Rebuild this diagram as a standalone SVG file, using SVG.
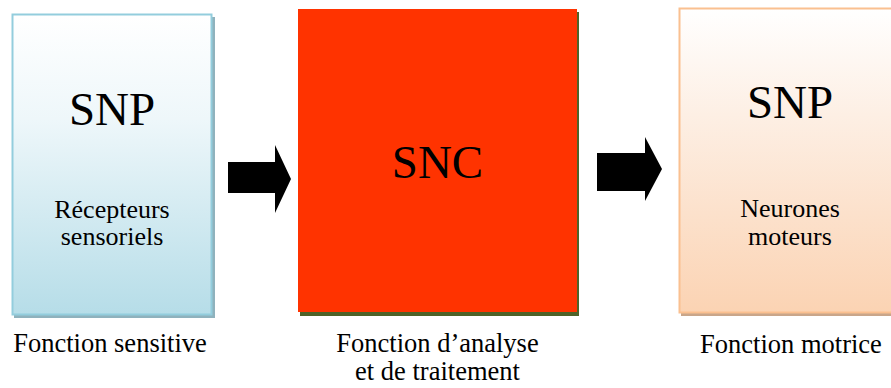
<svg xmlns="http://www.w3.org/2000/svg" width="891" height="388" viewBox="0 0 891 388">
<defs>
<linearGradient id="gBlue" x1="0" y1="0" x2="0" y2="1">
<stop offset="0" stop-color="#ffffff"/>
<stop offset="0.35" stop-color="#eef7fa"/>
<stop offset="1" stop-color="#b6dde8"/>
</linearGradient>
<linearGradient id="gOrange" x1="0" y1="0" x2="0" y2="1">
<stop offset="0" stop-color="#ffffff"/>
<stop offset="0.35" stop-color="#fdefe4"/>
<stop offset="1" stop-color="#fbd3b3"/>
</linearGradient>
</defs>
<style>
text{fill:#000;text-anchor:middle}
.big{font-size:47px}
.sm{font-size:26px}
.lab{font-size:26.5px}
</style>
<rect width="891" height="388" fill="#ffffff"/>
<g id="snp-sensitif">
<rect x="14" y="17" width="201" height="301" fill="#8fb2bd"/>
<rect x="12.5" y="14.5" width="199" height="300" fill="url(#gBlue)" stroke="#93cddd" stroke-width="2"/>
<text class="big" x="112" y="125" font-family="Liberation Serif">SNP</text>
<text class="sm" x="112" y="218" font-family="Liberation Serif">Récepteurs</text>
<text class="sm" x="112" y="245" font-family="Liberation Serif">sensoriels</text>
</g>
<g id="snc">
<rect x="300" y="12" width="279" height="304" fill="#4f6228"/>
<rect x="298" y="9" width="279" height="303" fill="#ff3300"/>
<text class="big" x="437.5" y="178" font-family="Liberation Serif">SNC</text>
</g>
<g id="snp-moteur">
<rect x="681" y="11" width="222" height="305" fill="#c9a68a"/>
<rect x="679.5" y="8.5" width="222" height="304" fill="url(#gOrange)" stroke="#fac090" stroke-width="2"/>
<text class="big" x="790" y="118" font-family="Liberation Serif">SNP</text>
<text class="sm" x="790" y="217" font-family="Liberation Serif">Neurones</text>
<text class="sm" x="790" y="245" font-family="Liberation Serif">moteurs</text>
</g>
<g id="connectors">
<polygon points="228,162 275,162 275,145 291,179 275,213 275,193 228,193" fill="#000"/>
<polygon points="597,153 645,153 645,137 662,169 645,201 645,191 597,191" fill="#000"/>
</g>
<g id="labels">
<text class="lab" x="110" y="352" font-family="Liberation Serif">Fonction sensitive</text>
<text class="lab" x="437.5" y="352" font-family="Liberation Serif">Fonction d’analyse</text>
<text class="lab" x="437.5" y="380" font-family="Liberation Serif">et de traitement</text>
<text class="lab" x="791" y="353" font-family="Liberation Serif">Fonction motrice</text>
</g>
</svg>
